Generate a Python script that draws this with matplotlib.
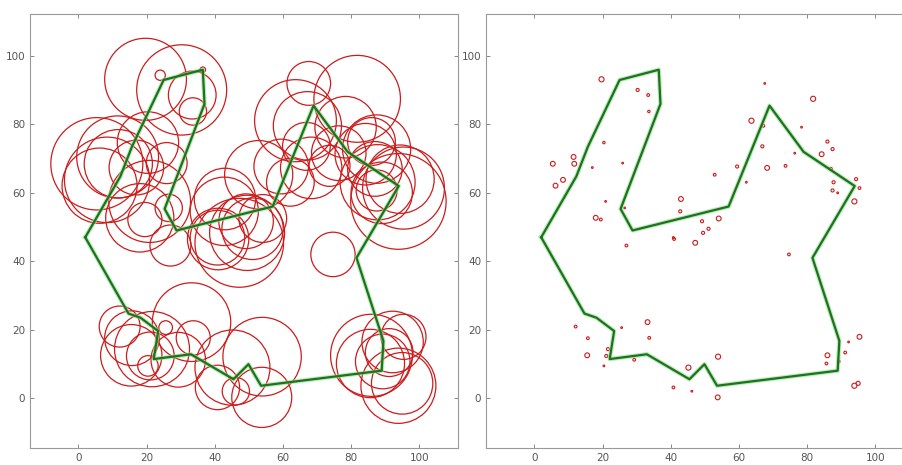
import numpy as np
import matplotlib.pyplot as plt
from matplotlib.patches import Circle

# point centres and their radii in each panel
pt_x = [19.7, 30.3, 33.4, 33.6, 20.4, 5.4, 11.5, 11.7, 8.4, 6.2, 17.0, 25.9, 20.9,
        18.0, 19.5, 26.5, 43.0, 42.8, 49.2, 54.1, 49.5, 51.1, 40.8, 52.9, 59.5, 62.2,
        63.7, 67.6, 67.2, 66.9, 68.3, 73.7, 76.4, 78.4, 81.8, 84.3, 86.0, 87.5, 87.0,
        87.8, 87.5, 89.0, 93.9, 94.4, 95.4, 27.0, 41.0, 47.2, 74.7, 12.1, 15.7, 15.5,
        21.6, 21.1, 20.4, 25.6, 33.2, 33.7, 29.3, 45.2, 40.8, 46.2, 53.9, 53.8, 86.0,
        85.7, 89.3, 91.2, 92.2, 95.4, 93.9, 95.0, 24.0, 36.5]
pt_y = [93.2, 90.1, 88.6, 83.8, 74.7, 68.5, 70.5, 68.5, 63.8, 62.1, 67.4, 68.7, 57.5,
        52.7, 52.2, 55.6, 58.2, 54.6, 51.7, 52.5, 48.3, 49.5, 46.9, 65.3, 67.7, 63.1,
        81.1, 92.0, 79.6, 73.6, 67.3, 67.9, 71.6, 79.2, 87.5, 71.3, 75.0, 72.8, 67.0,
        63.1, 60.7, 60.0, 57.5, 64.0, 61.4, 44.6, 46.5, 45.4, 42.0, 20.9, 17.5, 12.5,
        14.3, 12.3, 9.4, 20.6, 22.2, 17.6, 11.2, 8.9, 3.1, 2.0, 12.1, 0.2, 12.5,
        10.1, 10.7, 13.3, 16.4, 17.9, 3.6, 4.3, 94.4, 96.0]
r_big = [12.0, 13.2, 7.0, 4.0, 9.0, 13.5, 12.0, 10.0, 12.5, 11.0, 8.0, 6.0, 12.0,
         10.0, 5.0, 4.0, 9.0, 10.0, 8.0, 7.0, 11.0, 9.0, 8.0, 10.0, 8.0, 7.0,
         12.0, 6.4, 10.0, 7.0, 9.0, 6.0, 8.0, 9.0, 12.7, 9.0, 7.0, 10.0, 8.0,
         11.0, 6.0, 9.0, 14.0, 10.0, 12.0, 6.0, 9.0, 13.0, 6.5, 6.0, 8.0, 9.0,
         11.0, 7.0, 3.0, 2.0, 11.5, 5.0, 8.0, 11.0, 6.5, 4.0, 11.5, 8.8, 12.0,
         10.0, 8.0, 7.0, 9.0, 6.6, 11.0, 9.0, 1.5, 0.8]
r_small = [0.75, 0.45, 0.4, 0.35, 0.35, 0.7, 0.7, 0.7, 0.7, 0.7, 0.25, 0.25, 0.25,
           0.7, 0.4, 0.25, 0.7, 0.45, 0.45, 0.7, 0.45, 0.45, 0.3, 0.4, 0.45, 0.25,
           0.75, 0.25, 0.4, 0.45, 0.7, 0.4, 0.25, 0.25, 0.75, 0.7, 0.45, 0.45, 0.45,
           0.45, 0.45, 0.25, 0.75, 0.45, 0.4, 0.4, 0.4, 0.7, 0.4, 0.4, 0.4, 0.7,
           0.45, 0.45, 0.25, 0.25, 0.7, 0.4, 0.4, 0.75, 0.4, 0.25, 0.75, 0.7, 0.7,
           0.4, 0.4, 0.4, 0.25, 0.7, 0.75, 0.6, 0.0, 0.0]

# contour vertices (closed polygon)
poly_x = [2.0, 12.3, 15.7, 25.0, 36.5, 37.0, 25.3, 28.8, 57.0, 69.0, 79.0, 94.0,
          81.6, 89.5, 89.0, 53.6, 49.9, 45.5, 33.0, 22.1, 23.4, 18.2, 14.7, 2.0]
poly_y = [47.0, 64.8, 73.5, 93.0, 96.0, 86.0, 55.3, 49.0, 56.0, 85.5, 72.0, 62.0,
          41.0, 16.7, 8.0, 3.6, 9.9, 5.5, 12.8, 11.4, 19.6, 23.5, 24.7, 47.0]

fig = plt.figure(figsize=(9.02, 4.65), dpi=100)
ax1 = fig.add_axes([0.0333, 0.0366, 0.4745, 0.9333])
ax2 = fig.add_axes([0.5388, 0.0366, 0.4745, 0.9333])


def setup(ax):
    ax.set_xlim(-14.2, 111.4)
    ax.set_ylim(-14.6, 112.3)
    ax.set_xticks(np.arange(0, 101, 20))
    ax.set_yticks(np.arange(0, 101, 20))
    ax.tick_params(direction='in', top=True, right=True, length=3, width=0.7,
                   color='#888888', labelsize=7.5, labelcolor='#555555')
    for s in ax.spines.values():
        s.set_color('#999999')
        s.set_linewidth(0.8)


def draw(ax, radii, lw):
    for x, y, r in zip(pt_x, pt_y, radii):
        if r > 0:
            ax.add_patch(Circle((x, y), r, fill=False, edgecolor='#cc1c1c', linewidth=lw))
    ax.plot(poly_x, poly_y, color='#8fdc8f', linewidth=3.2, alpha=0.6, solid_joinstyle='round')
    ax.plot(poly_x, poly_y, color='#1d721d', linewidth=1.6, solid_joinstyle='round')


for ax in (ax1, ax2):
    setup(ax)
draw(ax1, r_big, 0.9)
draw(ax2, r_small, 0.8)

plt.savefig('out.png', dpi=100, facecolor='w')
